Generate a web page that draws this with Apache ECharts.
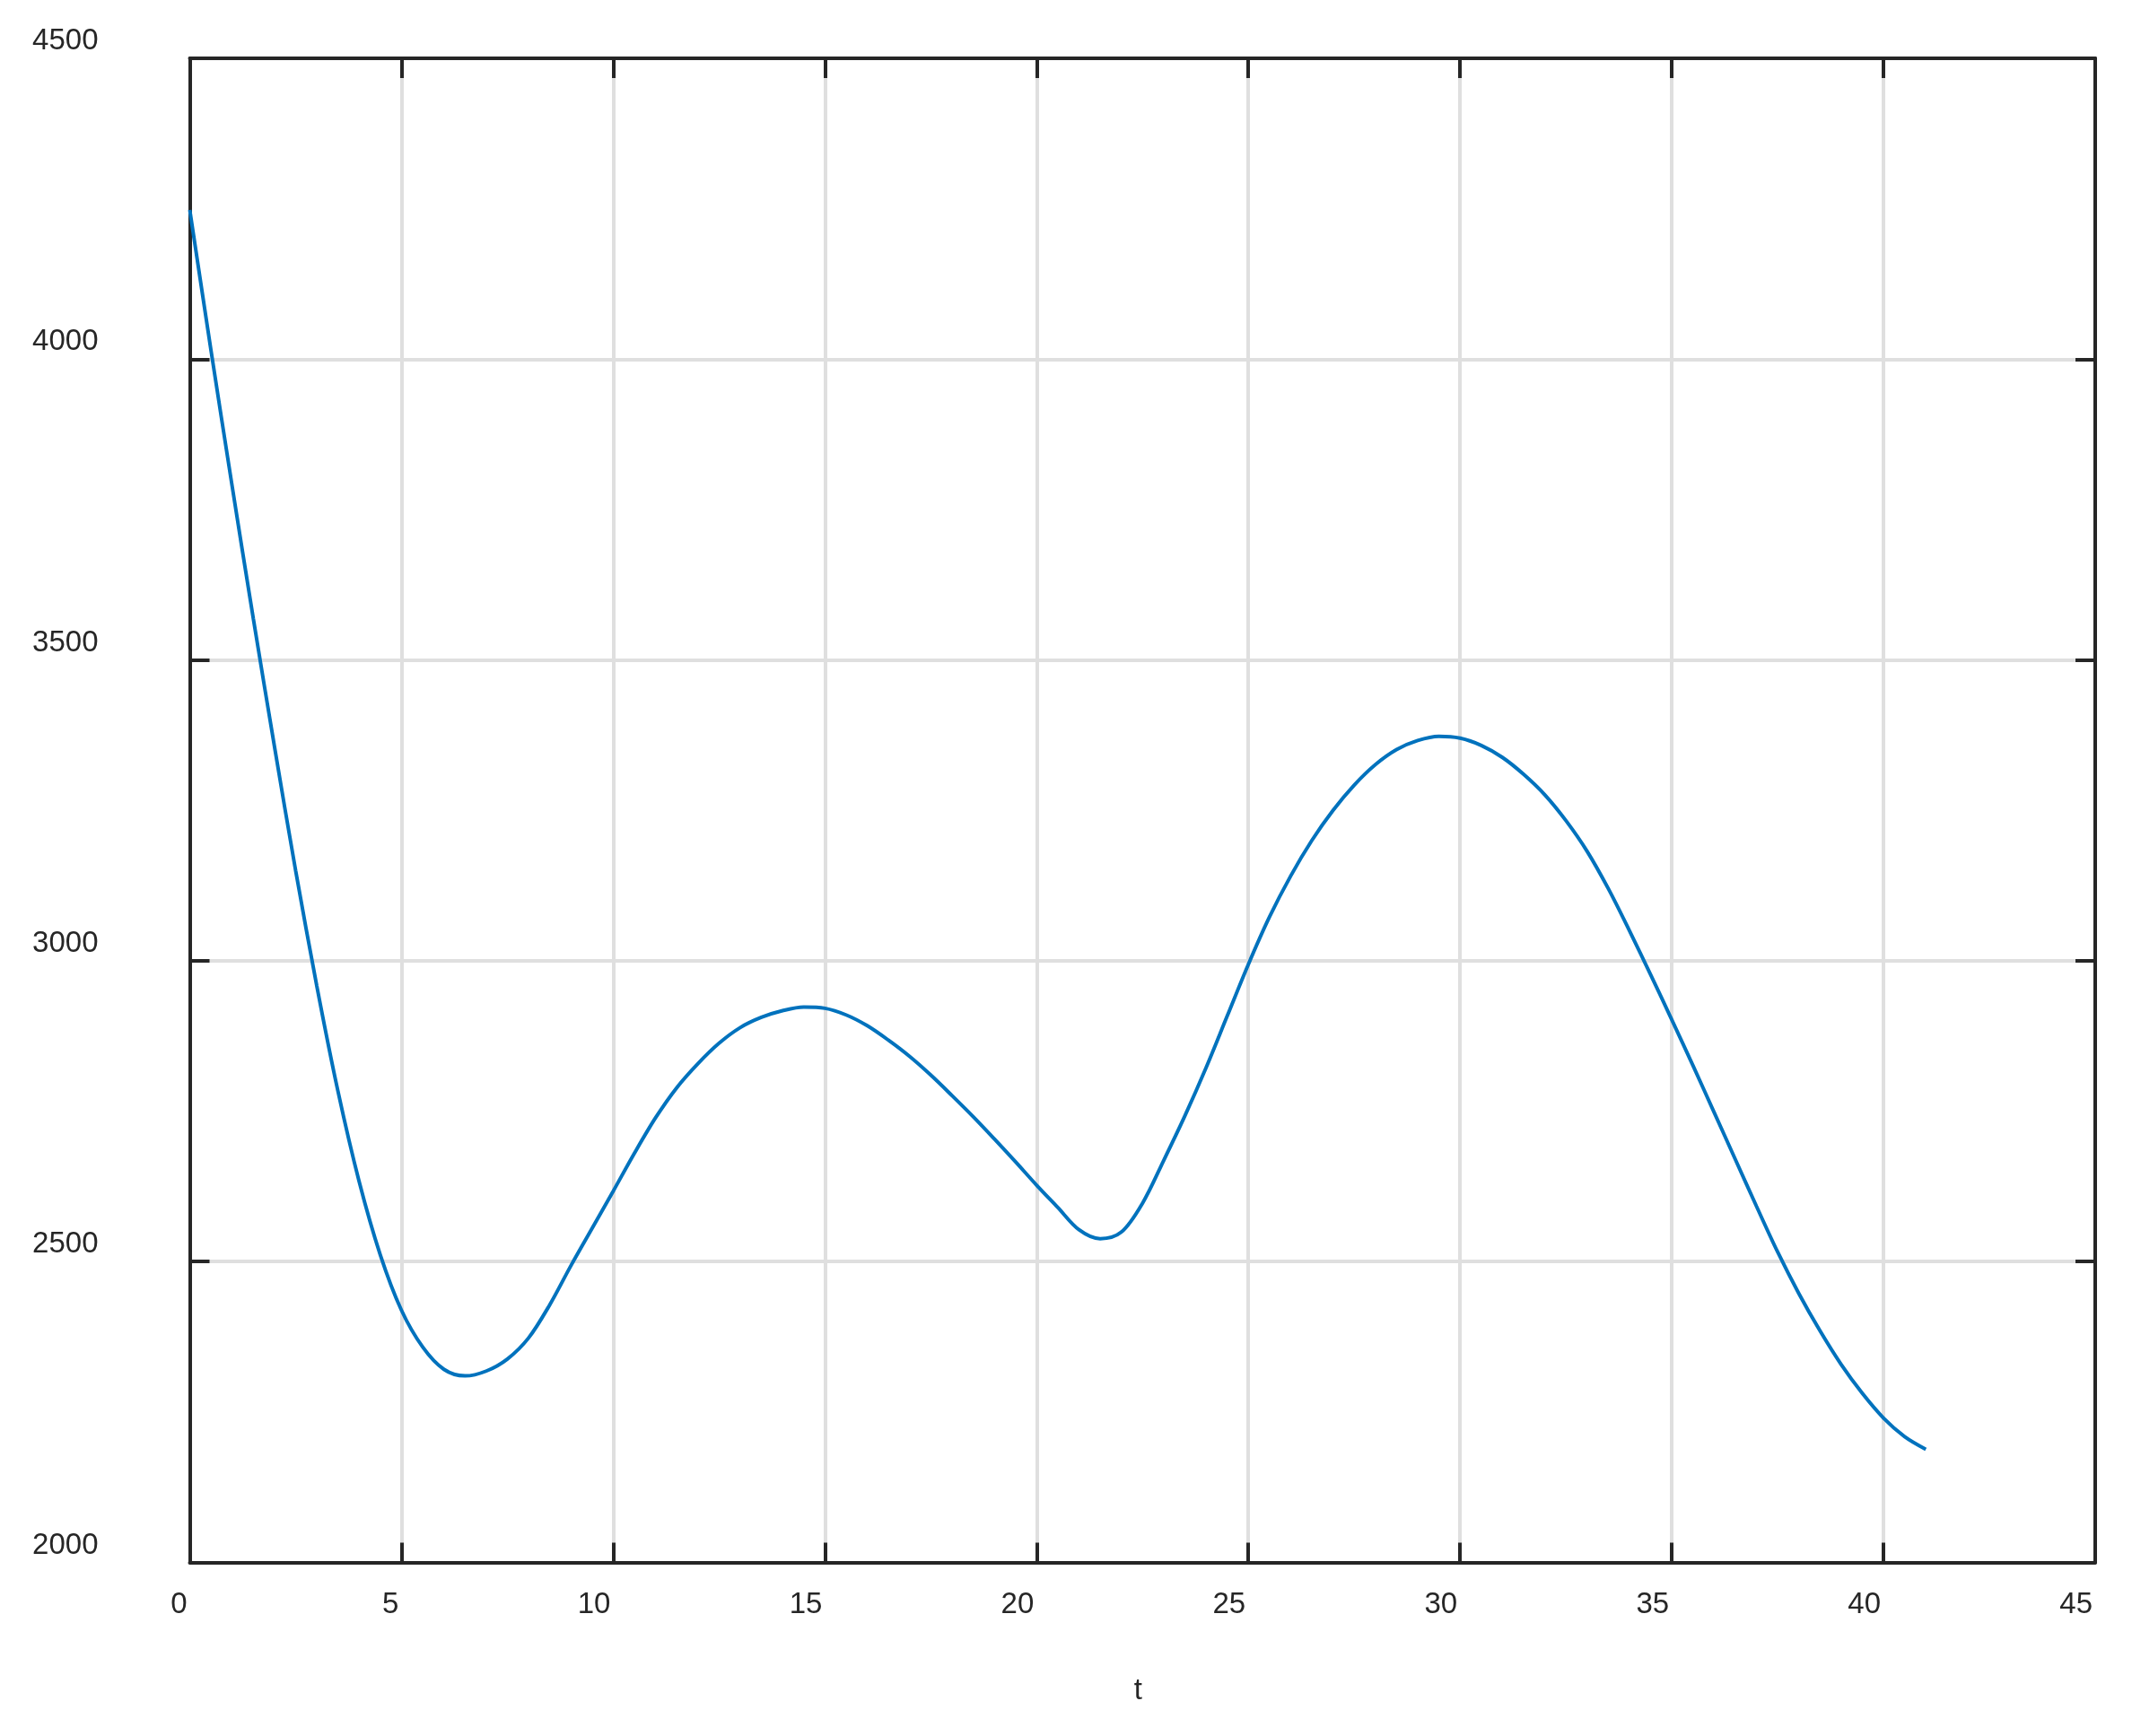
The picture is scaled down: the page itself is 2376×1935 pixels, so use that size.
<!DOCTYPE html>
<html>
<head>
<meta charset="UTF-8">
<title>t plot</title>
<script src="https://cdn.jsdelivr.net/npm/echarts@6/dist/echarts.min.js"></script>
<style>
  html, body { margin: 0; padding: 0; background: #fff; }
  #main { width: 2376px; height: 1935px; }
</style>
</head>
<body>
<div id="main"></div>
<script type="text/javascript">
// values, every half unit of t
var tValues = [0, 0.5, 1, 1.5, 2, 2.5, 3, 3.5, 4, 4.5, 5, 5.5, 6, 6.5, 7, 7.5, 8, 8.5,
  9, 9.5, 10, 10.5, 11, 11.5, 12, 12.5, 13, 13.5, 14, 14.5, 15, 15.5, 16, 16.5, 17, 17.5,
  18, 18.5, 19, 19.5, 20, 20.5, 21, 21.5, 22, 22.5, 23,
  23.5, 24, 24.5, 25, 25.5, 26, 26.5, 27, 27.5, 28, 28.5, 29, 29.5, 30, 30.5, 31, 31.5,
  32, 32.5, 33, 33.5, 34, 34.5, 35, 35.5, 36, 36.5, 37, 37.5, 38, 38.5, 39, 39.5, 40, 40.5, 41];
var yValues = [4248, 4015, 3789, 3569, 3356, 3150, 2958, 2783, 2633, 2511, 2419, 2358, 2321, 2310, 2318, 2338, 2373, 2428,
  2493, 2555, 2617, 2680, 2739, 2789, 2829, 2863, 2889, 2906, 2917, 2923, 2921, 2910, 2892, 2868, 2841, 2810,
  2776, 2741, 2704, 2666, 2627, 2590, 2553, 2538, 2549, 2597, 2668,
  2742, 2822, 2908, 2994, 3073, 3141, 3200, 3250, 3292, 3326, 3351, 3366, 3373, 3370, 3358, 3338, 3310,
  3276, 3233, 3182, 3120, 3050, 2977, 2902, 2826, 2748, 2670, 2592, 2516, 2447, 2385, 2329, 2281, 2240, 2209, 2188];

var xMin = 0, xMax = 45, xStep = 5;
var yMin = 2000, yMax = 4500, yStep = 500;
var xName = 't';

var ink = '#262626';
var gridGray = '#dfdfdf';

var points = [];
for (var i = 0; i < tValues.length; i++) {
  points.push([tValues[i], yValues[i]]);
}

var myChart = echarts.init(document.getElementById('main'));

var option = {
  backgroundColor: '#ffffff',
  animation: false,
  grid: {
    left: 211.5,
    right: 41,
    top: 65,
    bottom: 193.5,
    outerBoundsMode: 'none'
  },
  xAxis: [{
    type: 'value',
    position: 'bottom',
    min: xMin, max: xMax, interval: xStep,
    name: xName,
    nameLocation: 'middle',
    nameGap: 127,
    nameTextStyle: { color: ink, fontSize: 33, fontFamily: 'Liberation Sans', padding: [0, 10, 0, 0] },
    axisLine: { show: true, onZero: false, lineStyle: { color: ink, width: 4 } },
    axisTick: { show: true, inside: true, length: 22, lineStyle: { color: ink, width: 4 } },
    axisLabel: {
      color: ink, fontSize: 33, fontFamily: 'Liberation Sans',
      margin: 31, align: 'right', padding: [0, 3, 0, 0],
      formatter: function (v) { return String(v); }
    },
    splitLine: { show: true, lineStyle: { color: gridGray, width: 4 } }
  }, {
    type: 'value',
    position: 'top',
    min: xMin, max: xMax, interval: xStep,
    axisLine: { show: true, onZero: false, lineStyle: { color: ink, width: 4 } },
    axisTick: { show: true, inside: true, length: 22, lineStyle: { color: ink, width: 4 } },
    axisLabel: { show: false },
    splitLine: { show: false }
  }],
  yAxis: [{
    type: 'value',
    position: 'left',
    min: yMin, max: yMax, interval: yStep,
    axisLine: { show: true, onZero: false, lineStyle: { color: ink, width: 4 } },
    axisTick: { show: true, inside: true, length: 22, lineStyle: { color: ink, width: 4 } },
    axisLabel: {
      color: ink, fontSize: 33, fontFamily: 'Liberation Sans',
      margin: 102, verticalAlign: 'bottom', lineHeight: 38,
      formatter: function (v) { return String(v); }
    },
    splitLine: { show: true, lineStyle: { color: gridGray, width: 4 } }
  }, {
    type: 'value',
    position: 'right',
    min: yMin, max: yMax, interval: yStep,
    axisLine: { show: true, onZero: false, lineStyle: { color: ink, width: 4 } },
    axisTick: { show: true, inside: true, length: 22, lineStyle: { color: ink, width: 4 } },
    axisLabel: { show: false },
    splitLine: { show: false }
  }],
  series: [{
    type: 'line',
    xAxisIndex: 0,
    yAxisIndex: 0,
    data: points,
    smooth: 0.33,
    showSymbol: false,
    lineStyle: { color: '#0072BD', width: 4 },
    z: 5
  }]
};

myChart.setOption(option);
</script>
</body>
</html>
